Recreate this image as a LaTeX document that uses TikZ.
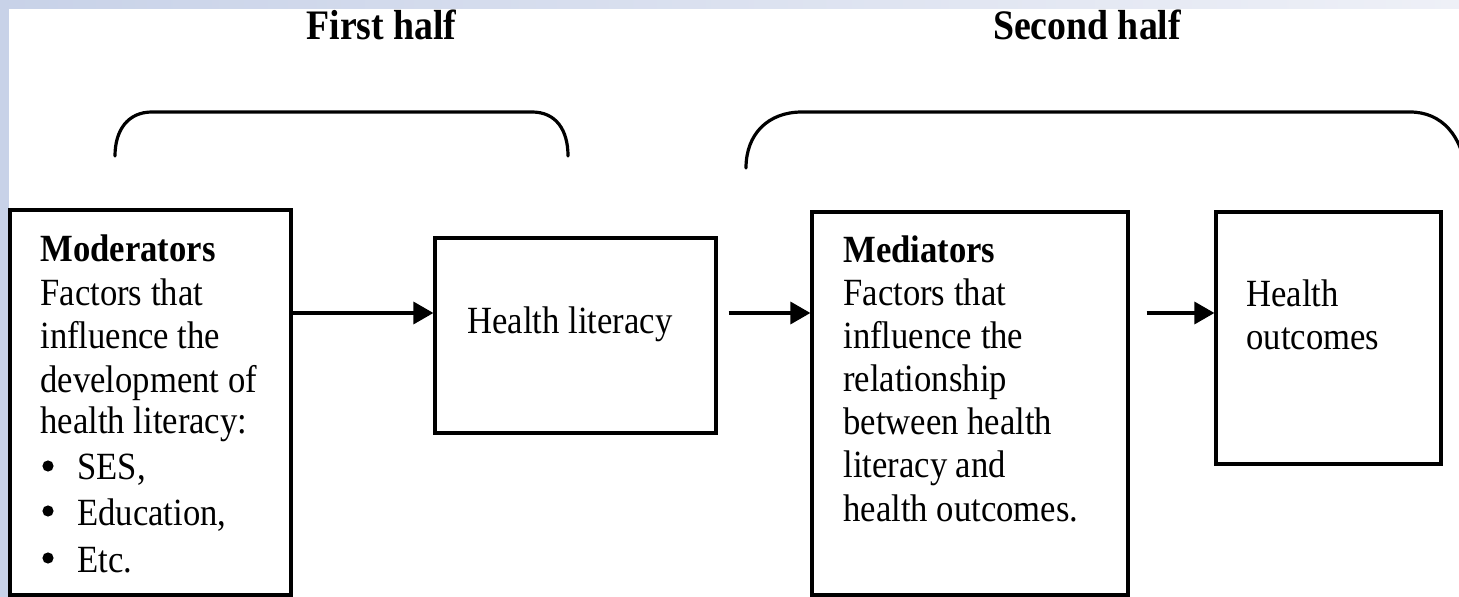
\documentclass[tikz,border=0pt]{standalone}
\usepackage{fontspec}
\setmainfont{Liberation Serif}[FakeStretch=0.9]
\usetikzlibrary{arrows.meta}
\definecolor{bgblue}{HTML}{C8D2E8}
\definecolor{bglight}{HTML}{EEF0F7}
\tikzset{
  box/.style={draw=black, line width=1.6pt, fill=white, inner sep=0pt},
  txt/.style={anchor=base west, inner sep=0pt, font=\fontsize{19.25}{21.75}\selectfont},
  bul/.style={circle, fill=black, inner sep=0pt, minimum size=5.6pt},
  hd/.style={txt, font=\fontsize{19.25}{21.75}\selectfont\bfseries},
  ttl/.style={anchor=base, inner sep=0pt, font=\fontsize{21}{24}\selectfont\bfseries},
  arr/.style={line width=1.7pt, -{Triangle[length=10pt,width=11pt]}},
  brk/.style={line width=1.6pt, line cap=round}
}
\begin{document}
\begin{tikzpicture}[x=0.5pt,y=-0.5pt]
\useasboundingbox (0,0) rectangle (1459,597);
% background
\fill[bgblue] (0,0) rectangle (9,597);
\shade[left color=bgblue, right color=bglight] (0,0) rectangle (1459,9);
\fill[white] (9,9) rectangle (1459,597);
% titles
\node[ttl] (t1) at (381.5,40) {First half};
\node[ttl] (t2) at (1087,40) {Second half};
% brackets
\begin{scope}
\clip (0,0) rectangle (1459,597);
\draw[brk] (115,156) .. controls (115,130) and (128,112) .. (152,112) -- (532,112) .. controls (556,112) and (568,130) .. (568,156);
\draw[brk] (746,168) .. controls (746,134) and (768,112) .. (802,112) -- (1410,112) .. controls (1442,112) and (1462,136) .. (1466,172);
\end{scope}
% boxes
\node[box, minimum width=140.5pt, minimum height=192.5pt] (mod) at (150.5,402.5) {};
\node[box, minimum width=140.5pt, minimum height=97.5pt] (hl) at (575.5,335.5) {};
\node[box, minimum width=158pt, minimum height=191.5pt] (med) at (970,403.5) {};
\node[box, minimum width=112.5pt, minimum height=126pt] (ho) at (1328.5,338) {};
% moderators text
\node[hd] (m1) at (40,262) {Moderators};
\node[txt] (m2) at (40,305.5) {Factors that};
\node[txt] (m3) at (40,349) {influence the};
\node[txt] (m4) at (40,392.5) {development of};
\node[txt] (m5) at (40,434) {health literacy:};
\node[bul] (b1) at (48,466) {};
\node[txt] (m6) at (77,480) {SES,};
\node[bul] (b2) at (48,511) {};
\node[txt] (m7) at (77,525) {Education,};
\node[bul] (b3) at (48,558) {};
\node[txt] (m8) at (77,572) {Etc.};
% health literacy
\node[txt] (h1) at (467,334) {Health literacy};
% mediators text
\node[hd] (d1) at (843,263) {Mediators};
\node[txt] (d2) at (843,306) {Factors that};
\node[txt] (d3) at (843,349) {influence the};
\node[txt] (d4) at (843,392) {relationship};
\node[txt] (d5) at (843,435) {between health};
\node[txt] (d6) at (843,478) {literacy and};
\node[txt] (d7) at (843,522) {health outcomes.};
% health outcomes
\node[txt] (o1) at (1246,307) {Health};
\node[txt] (o2) at (1246,350) {outcomes};
% arrows
\coordinate (row) at (0,313);
\draw[arr] (mod.east |- row) -- (hl.west |- row);
\draw[arr, shorten <=5.5pt] (hl.east |- row) -- (med.west |- row);
\draw[arr, shorten <=8.5pt] (med.east |- row) -- (ho.west |- row);
\end{tikzpicture}
\end{document}
